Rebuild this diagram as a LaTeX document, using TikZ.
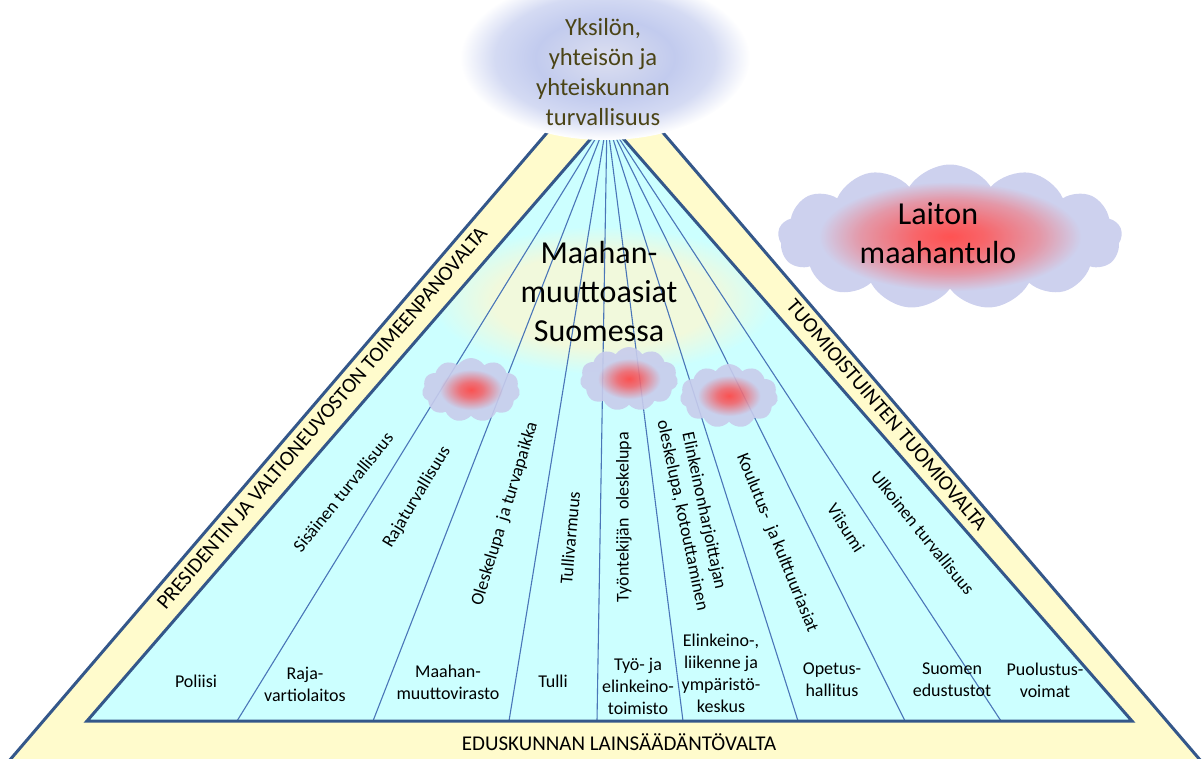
\documentclass[tikz,border=0pt]{standalone}
\usepackage{fontspec}
\setmainfont{Carlito}
\usetikzlibrary{shapes.symbols}

\definecolor{bandyellow}{HTML}{FFFBCC}
\definecolor{fancyan}{HTML}{CCFFFF}
\definecolor{edgeblue}{HTML}{34578A}
\definecolor{spokeblue}{HTML}{4A76B8}
\definecolor{cloudlav}{HTML}{C8CCEC}
\definecolor{glowred}{HTML}{FF3F3F}
\definecolor{skyblue}{HTML}{C2CBEE}
\definecolor{skymid}{HTML}{DCDFEF}
\definecolor{paleglow}{HTML}{F1F9DC}
\definecolor{olivetext}{HTML}{4B4416}

\pgfdeclareradialshading{redglow}{\pgfpoint{0bp}{0bp}}{color(0bp)=(glowred); color(6bp)=(glowred!75!cloudlav); color(16bp)=(cloudlav); color(25bp)=(cloudlav); color(50bp)=(cloudlav)}
\pgfdeclareradialshading{laitonglow}{\pgfpoint{0bp}{0bp}}{color(0bp)=(glowred); color(5bp)=(glowred!85!cloudlav); color(13bp)=(glowred!45!cloudlav); color(19bp)=(cloudlav); color(50bp)=(cloudlav)}
\pgfdeclareradialshading{skyglow}{\pgfpoint{0bp}{0bp}}{color(0bp)=(skymid); color(12bp)=(skyblue); color(19bp)=(skyblue!70!white); color(25bp)=(white); color(50bp)=(white)}
\pgfdeclareradialshading{topicglow}{\pgfpoint{0bp}{0bp}}{color(0bp)=(paleglow); color(16bp)=(paleglow); color(25bp)=(fancyan); color(50bp)=(fancyan)}

\begin{document}
\begin{tikzpicture}[x=1pt,y=-1pt,
  frame/.style={draw=edgeblue,line width=3pt},
  spoke/.style={draw=spokeblue,line width=1.1pt},
  unit/.style={font=\fontsize{18}{22}\selectfont,align=center,inner sep=0pt},
  duty/.style={font=\fontsize{18}{22}\selectfont,align=center,inner sep=0pt},
  power/.style={font=\fontsize{21}{25}\selectfont,inner sep=0pt},
  big/.style={font=\fontsize{32}{39}\selectfont,align=center,inner sep=0pt},
  risk/.style={cloud,cloud puffs=11,cloud puff arc=115,cloud ignores aspect,shading=redglow,opacity=.9,inner sep=0pt,minimum width=98pt,minimum height=64pt}]
\useasboundingbox (0,0) rectangle (1202,758);
\clip (0,0) rectangle (1202,758);
% bands and pyramid
\coordinate (otop) at (605,65);
\coordinate (oleft) at (-3,775);
\coordinate (oright) at (1213,775);
\coordinate (top) at (607,120);
\coordinate (left) at (87,721);
\coordinate (right) at (1132,721);
\filldraw[frame,fill=bandyellow] (otop) -- (oleft) -- (oright) -- cycle;
\fill[fancyan] (top) -- (left) -- (right) -- cycle;
\begin{scope}
  \clip (top) -- (left) -- (right) -- cycle;
  \shade[shading=topicglow] (603,300) ellipse (172 and 74);
\end{scope}
\foreach \bx in {237,373,509,597,683,798,905,1001}
  \draw[spoke] (\bx,721) -- (top);
\draw[frame] (top) -- (left) -- (right) -- cycle;
% clouds
\node[risk] (riskA) at (471,390) {};
\node[risk] (riskB) at (629,379) {};
\node[risk] (riskC) at (729,396) {};
\node[risk,shading=laitonglow,cloud puffs=13,minimum width=344pt,minimum height=145pt] (illegal) at (950,237) {};
\shade[shading=skyglow] (605,58) ellipse (145 and 82);
% texts
\node[font=\fontsize{24.6}{30}\selectfont,text=olivetext,align=center,inner sep=0pt] (safety) at (603,72) {Yksilön,\\yhteisön ja\\yhteiskunnan\\turvallisuus};
\node[big] (topic) at (599,292) {Maahan-\\muuttoasiat\\Suomessa};
\node[big] (illegaltext) at (938,233) {Laiton\\maahantulo};
\node[power,rotate=49.4] (exec) at (322,418) {PRESIDENTIN JA VALTIONEUVOSTON TOIMEENPANOVALTA};
\node[power,rotate=-49.4] (court) at (887,415) {TUOMIOISTUINTEN TUOMIOVALTA};
\node[power] (parl) at (619,742) {EDUSKUNNAN LAINSÄÄDÄNTÖVALTA};
\node[duty,rotate=51] (d1) at (343,492) {Sisäinen turvallisuus};
\node[duty,rotate=59] (d2) at (417,497) {Rajaturvallisuus};
\node[duty,rotate=73] (d3) at (505,514) {Oleskelupa\ \ ja turvapaikka};
\node[duty,rotate=85] (d4) at (570,538) {Tullivarmuus};
\node[duty,rotate=90] (d5) at (624,517) {Työntekijän\ \ oleskelupa};
\node[duty,rotate=-78] (d6) at (693,513) {Elinkeinonharjoittajan\\oleskelupa, kotouttaminen};
\node[duty,rotate=-68] (d7) at (777,543) {Koulutus-\ \ ja kulttuuriasiat};
\node[duty,rotate=-57] (d8) at (846,528) {Viisumi};
\node[duty,rotate=-51] (d9) at (923,533) {Ulkoinen turvallisuus};
\node[unit] (u1) at (196,681) {Poliisi};
\node[unit] (u2) at (305,684) {Raja-\\vartiolaitos};
\node[unit] (u3) at (448,682) {Maahan-\\muuttovirasto};
\node[unit] (u4) at (553,681) {Tulli};
\node[unit] (u5) at (638,686) {Työ- ja\\elinkeino-\\toimisto};
\node[unit] (u6) at (721,673) {Elinkeino-,\\liikenne ja\\ympäristö-\\keskus};
\node[unit] (u7) at (832,680) {Opetus-\\hallitus};
\node[unit] (u8) at (952,680) {Suomen\\edustustot};
\node[unit] (u9) at (1045,680) {Puolustus-\\voimat};
\end{tikzpicture}
\end{document}
